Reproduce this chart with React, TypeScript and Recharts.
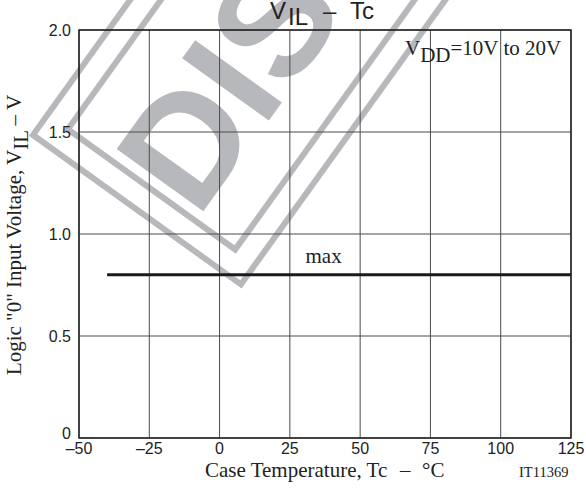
import { LineChart, Line, XAxis, YAxis, CartesianGrid, ReferenceArea, ReferenceDot } from 'recharts';

// VIL max vs case temperature
const temps = [-40, 125];
const vilMax = [0.8, 0.8];
const xTicks = [-50, -25, 0, 25, 50, 75, 100, 125];
const yTicks = [0, 0.5, 1.0, 1.5, 2.0];

const SANS = 'Liberation Sans, Arial, sans-serif';
const SERIF = 'Liberation Serif, Times New Roman, serif';
const INK = '#222';
const WM = '#b6b8bb';

const data = temps.map((t, i) => ({ t, v: vilMax[i] }));

const YTick = (props: any) => {
  const { x, y, payload } = props;
  const v = payload.value;
  return (
    <text
      x={x}
      y={v === 0 ? y - 5 : y}
      dy="0.355em"
      textAnchor="end"
      fontFamily={SANS}
      fontSize={16}
      fill={INK}
    >
      {v === 0 ? '0' : v.toFixed(1)}
    </text>
  );
};

// grey "DISCONTINUED" stamp sitting behind the chart
const Watermark = () => (
  <svg width={586} height={488} style={{ position: 'absolute', left: 0, top: 0 }}>
    <g transform="translate(33,135) rotate(-54.3)">
      <rect x={0} y={0} width={700} height={256} fill="none" stroke={WM} strokeWidth={6} />
      <rect x={25} y={25} width={650} height={206} fill="none" stroke={WM} strokeWidth={6} />
      <text x={27} y={183} fontFamily={SANS} fontWeight="bold" fontSize={155} fill={WM}>
        DISCONTINUED
      </text>
    </g>
  </svg>
);

const Annotations = () => (
  <svg width={586} height={488} style={{ position: 'absolute', left: 0, top: 0, pointerEvents: 'none' }}>
    <text fontFamily={SANS} fontSize={24} fill={INK}>
      <tspan x={270} y={19}>V</tspan>
      <tspan x={288} y={25}>IL</tspan>
      <tspan x={323} y={19}>–</tspan>
      <tspan x={350} y={19}>Tc</tspan>
    </text>
    <text fontFamily={SERIF} fontSize={21} fill={INK}>
      <tspan x={405} y={55}>V</tspan>
      <tspan dy={7}>DD</tspan>
      <tspan dy={-7}>=10V to 20V</tspan>
    </text>
    <text fontFamily={SERIF} fontSize={21} fill={INK}>
      <tspan x={205} y={477}>Case Temperature, Tc</tspan>
      <tspan x={400} y={477}>–</tspan>
      <tspan x={422} y={477}>°C</tspan>
    </text>
    <text x={519} y={477} fontFamily={SERIF} fontSize={14.5} fill={INK}>IT11369</text>
    <text
      transform="translate(21,235) rotate(-90)"
      textAnchor="middle"
      fontFamily={SERIF}
      fontSize={21}
      fill={INK}
    >
      Logic "0" Input Voltage, V<tspan dy={7}>IL</tspan>
      <tspan dy={-7}> – V</tspan>
    </text>
  </svg>
);

const App = () => {
  return (
    <div style={{ position: 'absolute', left: 0, top: 0, width: 586, height: 488, background: '#fff' }}>
      <Watermark />
      <div style={{ position: 'absolute', left: 0, top: 0 }}>
        <LineChart width={586} height={488} data={data} margin={{ top: 30, right: 15, bottom: 0, left: 0 }}>
          <CartesianGrid stroke="#4a4a4a" strokeWidth={1} />
          <XAxis
            type="number"
            dataKey="t"
            domain={[-50, 125]}
            ticks={xTicks}
            height={50}
            axisLine={false}
            tickLine={false}
            tickSize={5}
            tickMargin={0}
            tickFormatter={(v: number) => (v < 0 ? `–${Math.abs(v)}` : `${v}`)}
            tick={{ fontFamily: SANS, fontSize: 16, fill: INK }}
          />
          <YAxis
            type="number"
            domain={[0, 2]}
            ticks={yTicks}
            width={79}
            axisLine={false}
            tickLine={false}
            tick={<YTick />}
          />
          <ReferenceArea x1={-50} x2={125} y1={0} y2={2} fill="none" stroke={INK} strokeWidth={1.5} />
          <Line
            type="linear"
            dataKey="v"
            stroke="#1a1a1a"
            strokeWidth={3}
            dot={false}
            isAnimationActive={false}
          />
          <ReferenceDot
            x={37}
            y={0.8}
            r={0}
            stroke="none"
            label={{ value: 'max', position: 'top', offset: 12, fontFamily: SERIF, fontSize: 21, fill: INK }}
          />
        </LineChart>
      </div>
      <Annotations />
    </div>
  );
};

export default App;
